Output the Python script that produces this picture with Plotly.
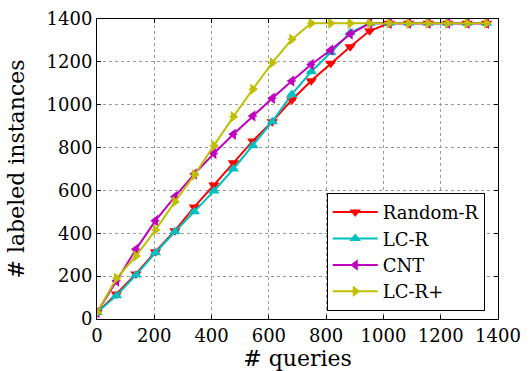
import plotly.graph_objects as go

queries = [0, 68, 136, 204, 272, 340, 408, 476, 544, 612, 680, 748, 816, 884, 952, 1020, 1088, 1156, 1224, 1292, 1360]
random_r = [30, 117, 210, 314, 412, 523, 625, 729, 831, 921, 1022, 1112, 1193, 1271, 1345, 1380, 1380, 1380, 1380, 1380, 1380]
lc_r = [30, 109, 205, 309, 407, 501, 597, 700, 809, 921, 1048, 1154, 1244, 1336, 1380, 1380, 1380, 1380, 1380, 1380, 1380]
cnt = [30, 177, 325, 459, 571, 677, 772, 862, 947, 1030, 1111, 1188, 1255, 1330, 1380, 1380, 1380, 1380, 1380, 1380, 1380]
lc_r_plus = [30, 190, 294, 415, 547, 672, 809, 944, 1072, 1196, 1305, 1380, 1380, 1380, 1380, 1380, 1380, 1380, 1380, 1380, 1380]

series = [
    ("Random-R", random_r, "#FF0000", "triangle-down"),
    ("LC-R", lc_r, "#00BFBF", "triangle-up"),
    ("CNT", cnt, "#BF00BF", "triangle-left"),
    ("LC-R+", lc_r_plus, "#BFBF00", "triangle-right"),
]

fig = go.Figure()
for name, vals, color, sym in series:
    fig.add_trace(go.Scatter(
        x=queries, y=vals, name=name, mode="lines+markers",
        line=dict(color=color, width=2),
        marker=dict(symbol=sym, size=10, color=color, line=dict(width=0)),
        error_y=dict(type="data", array=[0] * len(vals), color=color, thickness=1.5, width=4),
    ))

axis_common = dict(
    showline=True, linecolor="black", linewidth=1, mirror="allticks",
    ticks="inside", ticklen=4, tickcolor="black",
    showgrid=True, gridcolor="#9a9a9a", griddash="dot", gridwidth=1,
    zeroline=False, automargin=False,
    tickfont=dict(family="DejaVu Serif", size=18, color="black"),
)

fig.update_layout(
    width=532, height=371,
    margin=dict(l=97, r=34, t=19, b=52),
    paper_bgcolor="white", plot_bgcolor="white",
    font=dict(family="DejaVu Serif", color="black"),
    xaxis=dict(range=[0, 1400], dtick=200,
               title=dict(text="# queries", font=dict(family="DejaVu Serif", size=22)), **axis_common),
    yaxis=dict(range=[0, 1400], dtick=200,
               title=dict(text="# labeled instances", font=dict(family="DejaVu Serif", size=22)), **axis_common),
    legend=dict(
        x=0.967, y=0.027, xanchor="right", yanchor="bottom",
        bgcolor="white", bordercolor="black", borderwidth=1,
        font=dict(family="DejaVu Serif", size=18, color="black"),
        tracegroupgap=0, itemwidth=45,
    ),
    showlegend=True,
)

fig.write_html("out.html", config={"displayModeBar": False},
               post_script="document.body.style.margin='0';")
